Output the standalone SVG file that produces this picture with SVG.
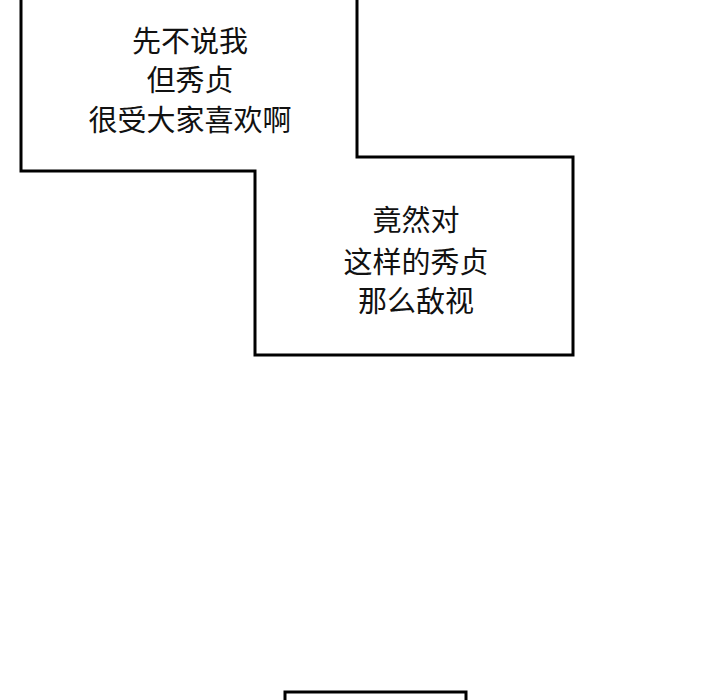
<svg xmlns="http://www.w3.org/2000/svg" width="720" height="700" viewBox="0 0 720 700">
<style>.o{fill:#fff;stroke:#000;stroke-width:3}.t{font-family:"Noto Sans CJK SC",sans-serif;font-size:29px;text-anchor:middle;fill:#111}</style>
<rect width="720" height="700" fill="#fff"/>
<path class="o" d="M21,-5 L21,171 L255,171 L255,355 L573,355 L573,157 L357,157 L357,-5 Z"/>
<rect class="o" x="285" y="692" width="181" height="20"/>
<g id="bubble1"><text class="t" x="190" y="52">先不说我</text><text class="t" x="190" y="91">但秀贞</text><text class="t" x="190" y="131">很受大家喜欢啊</text></g>
<g id="bubble2"><text class="t" x="416" y="231">竟然对</text><text class="t" x="416" y="273">这样的秀贞</text><text class="t" x="416" y="312">那么敌视</text></g>
</svg>
